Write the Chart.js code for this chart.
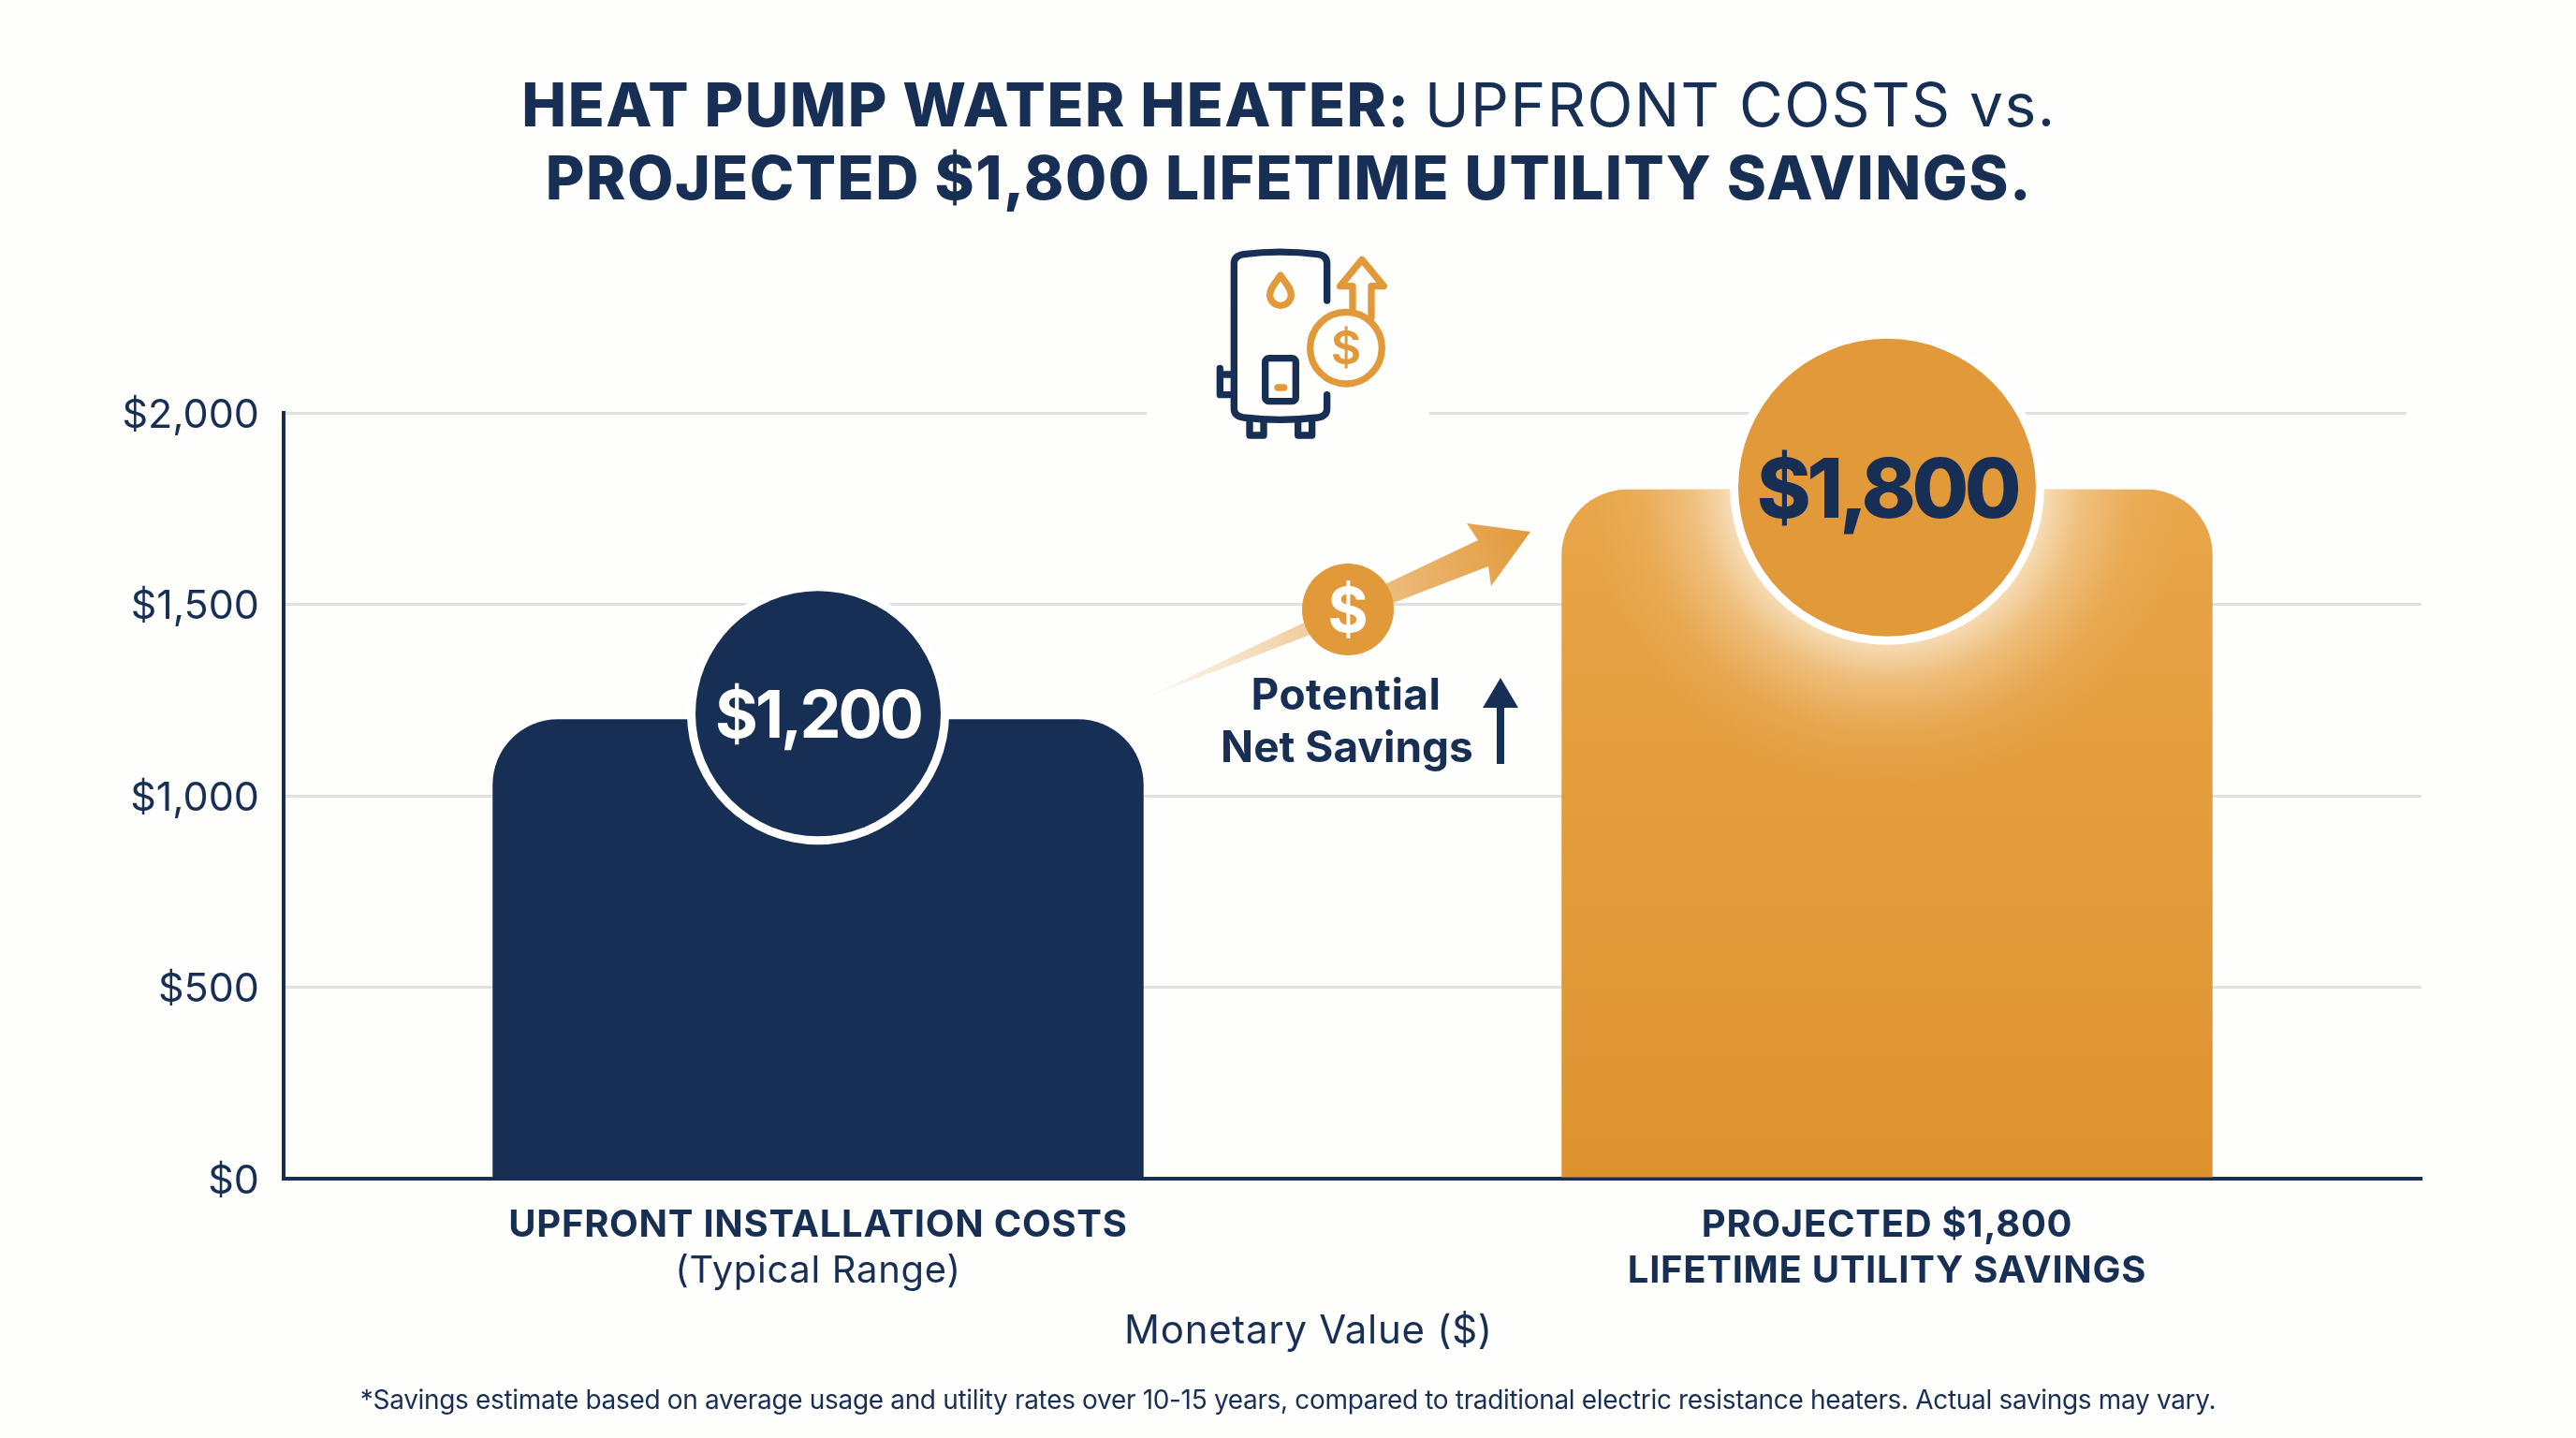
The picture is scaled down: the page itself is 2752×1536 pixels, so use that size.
<!DOCTYPE html>
<html>
<head>
<meta charset="utf-8">
<title>Heat pump water heater</title>
<script src="https://cdn.jsdelivr.net/npm/chart.js@4"></script>
<style>
    html, body { margin: 0; padding: 0; background: #fefefd; }
    canvas { display: block; }
</style>
</head>
<body>
<div style="width:2752px;height:1536px"><canvas id="chart"></canvas></div>
<script>
const categories = ['UPFRONT INSTALLATION COSTS', 'PROJECTED $1,800'];
const categorySubLabels = ['(Typical Range)', 'LIFETIME UTILITY SAVINGS'];
const seriesValues = [1200, 1800];
const valueLabels = ['$1,200', '$1,800'];
const yTicks = [0, 500, 1000, 1500, 2000];

const NAVY = '#182f55';
const ORANGE = '#e2993a';
const FONT = 'Inter, "Open Sans", sans-serif';

function text(ctx, str, x, y, font, color, spacing) {
    ctx.font = font + ' ' + FONT;
    ctx.letterSpacing = (spacing || 0) + 'px';
    ctx.fillStyle = color;
    ctx.textAlign = 'center';
    ctx.textBaseline = 'alphabetic';
    ctx.fillText(str, x, y);
    ctx.letterSpacing = '0px';
}

// two-weight line, centered on cx
function mixedLine(ctx, parts, cx, y, spacing) {
    ctx.textAlign = 'left';
    ctx.textBaseline = 'alphabetic';
    ctx.letterSpacing = spacing + 'px';
    let total = 0;
    parts.forEach(p => {
        ctx.font = p.font + ' ' + FONT;
        total += ctx.measureText(p.str).width;
    });
    let x = cx - total / 2;
    parts.forEach(p => {
        ctx.font = p.font + ' ' + FONT;
        ctx.fillStyle = NAVY;
        ctx.fillText(p.str, x, y);
        x += ctx.measureText(p.str).width;
    });
    ctx.letterSpacing = '0px';
}

function drawIcon(ctx) {
    ctx.save();
    // gaps in the top gridline: behind the icon and at its right end
    ctx.fillStyle = '#fefefd';
    ctx.fillRect(1225, 430, 302, 22);
    ctx.fillRect(2571, 430, 30, 22);
    ctx.translate(1200, 240);
    ctx.scale(1 / 3, 1 / 3);
    ctx.lineCap = 'round';
    ctx.lineJoin = 'round';
    ctx.lineWidth = 22;
    ctx.strokeStyle = NAVY;
    ctx.stroke(new Path2D('M653 243 L653 125 Q653 100 625 95 Q500 80 385 95 Q355 100 355 125 L355 590 Q355 612 385 618 Q500 632 625 618 Q653 612 653 590 L653 545'));
    ctx.stroke(new Path2D('M345 545 L310 545 L310 460 M318 480 L345 480'));
    ctx.stroke(new Path2D('M405 632 L405 675 L450 675 L450 632 M560 632 L560 675 L605 675 L605 632'));
    ctx.beginPath();
    ctx.roundRect(455, 428, 98, 138, 12);
    ctx.stroke();
    ctx.strokeStyle = ORANGE;
    ctx.stroke(new Path2D('M495 522 L515 522'));
    ctx.stroke(new Path2D('M504 162 C482 195 470 205 470 225 A34 34 0 0 0 538 225 C538 205 526 195 504 162 Z'));
    ctx.stroke(new Path2D('M735 275 L735 197 L695 197 L765 112 L835 197 L795 197 L795 298'));
    ctx.beginPath();
    ctx.arc(714, 395, 115, 0, Math.PI * 2);
    ctx.stroke();
    ctx.restore();
    text(ctx, '$', 1438, 389, '600 50px', ORANGE);
}

const extras = {
    id: 'extras',
    afterDatasetsDraw(chart) {
        const { ctx, scales: { x, y } } = chart;
        ctx.save();

        // white haze under the big badge, kept inside the bar
        const bar = chart.getDatasetMeta(0).data[1];
        const cx = x.getPixelForValue(1);
        const cy = y.getPixelForValue(seriesValues[1]) - 2;
        ctx.save();
        ctx.beginPath();
        ctx.roundRect(bar.x - bar.width / 2, bar.y, bar.width, bar.base - bar.y, [70, 70, 0, 0]);
        ctx.clip();
        const glow = ctx.createRadialGradient(cx, cy, 160, cx, cy, 320);
        glow.addColorStop(0, 'rgba(255,250,240,0.7)');
        glow.addColorStop(0.3, 'rgba(255,248,235,0.32)');
        glow.addColorStop(0.65, 'rgba(255,245,230,0.08)');
        glow.addColorStop(1, 'rgba(255,245,230,0)');
        ctx.fillStyle = glow;
        ctx.fillRect(cx - 340, cy, 680, 340);
        ctx.restore();

        // value badges
        const badges = [
            { r: 131, ring: 9, lift: 6, base: 26, fill: NAVY, color: '#ffffff', font: '700 70px', spacing: -3 },
            { r: 159, ring: 9, lift: 2, base: 32, fill: ORANGE, color: NAVY, font: '800 88px', spacing: -4.5 }
        ];
        badges.forEach((b, i) => {
            const bx = x.getPixelForValue(i);
            const by = y.getPixelForValue(seriesValues[i]) - b.lift;
            ctx.beginPath();
            ctx.arc(bx, by, b.r + b.ring, 0, Math.PI * 2);
            ctx.fillStyle = '#ffffff';
            ctx.fill();
            ctx.beginPath();
            ctx.arc(bx, by, b.r, 0, Math.PI * 2);
            ctx.fillStyle = b.fill;
            ctx.fill();
            text(ctx, valueLabels[i], bx, by + b.base, b.font, b.color, b.spacing);
        });

        // arrow between the bars
        const arrow = ctx.createLinearGradient(1220, 747, 1635, 568);
        arrow.addColorStop(0, 'rgba(230,160,70,0)');
        arrow.addColorStop(0.2, 'rgba(230,160,70,0.25)');
        arrow.addColorStop(0.5, 'rgba(230,160,70,0.6)');
        arrow.addColorStop(1, 'rgba(226,153,58,1)');
        ctx.fillStyle = arrow;
        ctx.fill(new Path2D('M1220 747 L1579 577 L1567 559 L1635 568 L1593 626 L1590 605 Z'));
        ctx.beginPath();
        ctx.arc(1440, 651, 49, 0, Math.PI * 2);
        ctx.fillStyle = ORANGE;
        ctx.fill();
        text(ctx, '$', 1440, 675, '700 66px', '#ffffff');

        text(ctx, 'Potential', 1438, 758, '700 46px', NAVY, 0.5);
        text(ctx, 'Net Savings', 1439, 814, '700 46px', NAVY);
        ctx.fillStyle = NAVY;
        ctx.fill(new Path2D('M1599 816 L1599 756 L1584 756 L1603 724 L1622 756 L1607 756 L1607 816 Z'));

        drawIcon(ctx);

        // title
        mixedLine(ctx, [
            { str: 'HEAT PUMP WATER HEATER: ', font: '800 64px' },
            { str: 'UPFRONT COSTS vs.', font: '400 64px' }
        ], 1377, 135, 1.5);
        mixedLine(ctx, [{ str: 'PROJECTED $1,800 LIFETIME UTILITY SAVINGS.', font: '800 64px' }], 1377, 213, 1.5);

        // category labels: the second line changes weight per category
        categories.forEach((c, i) => {
            const lx = x.getPixelForValue(i);
            text(ctx, c, lx, 1321, '700 40px', NAVY, 0.7);
            text(ctx, categorySubLabels[i], lx, 1370, i === 0 ? '400 40px' : '700 40px', NAVY, 0.7);
        });
        text(ctx, 'Monetary Value ($)', 1398, 1435, '400 42px', NAVY, 0.7);
        text(ctx, '*Savings estimate based on average usage and utility rates over 10-15 years, compared to traditional electric resistance heaters. Actual savings may vary.', 1376, 1505, '400 28px', NAVY, -0.33);
        ctx.restore();
    }
};

new Chart(document.getElementById('chart'), {
    type: 'bar',
    data: {
        labels: categories,
        datasets: [{
            data: seriesValues,
            categoryPercentage: 1,
            barPercentage: 0.609,
            borderRadius: { topLeft: 70, topRight: 70, bottomLeft: 0, bottomRight: 0 },
            borderSkipped: 'bottom',
            backgroundColor(c) {
                if (c.dataIndex === 0) return NAVY;
                const area = c.chart.chartArea;
                if (!area) return ORANGE;
                const g = c.chart.ctx.createLinearGradient(0, area.top, 0, area.bottom);
                g.addColorStop(0, '#e9a84d');
                g.addColorStop(1, '#de922f');
                return g;
            }
        }]
    },
    options: {
        responsive: true,
        maintainAspectRatio: false,
        animation: false,
        layout: { padding: { top: 441, right: 165, bottom: 0, left: 0 } },
        plugins: { legend: { display: false }, tooltip: { enabled: false } },
        scales: {
            x: {
                afterFit(s) { s.height = 277; },
                grid: { display: false, drawTicks: false },
                border: { color: NAVY, width: 4 },
                ticks: { display: false }
            },
            y: {
                min: 0,
                max: 2000,
                afterFit(s) { s.width = 303; },
                afterBuildTicks(s) { s.ticks = yTicks.map(value => ({ value })); },
                grid: { color: '#e0e0e0', lineWidth: 3, drawTicks: false },
                border: { color: NAVY, width: 4 },
                ticks: {
                    padding: 26,
                    labelOffset: 3,
                    color: NAVY,
                    font: { family: FONT, size: 43, weight: '400' },
                    callback: v => '$' + v.toLocaleString('en-US')
                }
            }
        }
    },
    plugins: [extras]
});
</script>
</body>
</html>
